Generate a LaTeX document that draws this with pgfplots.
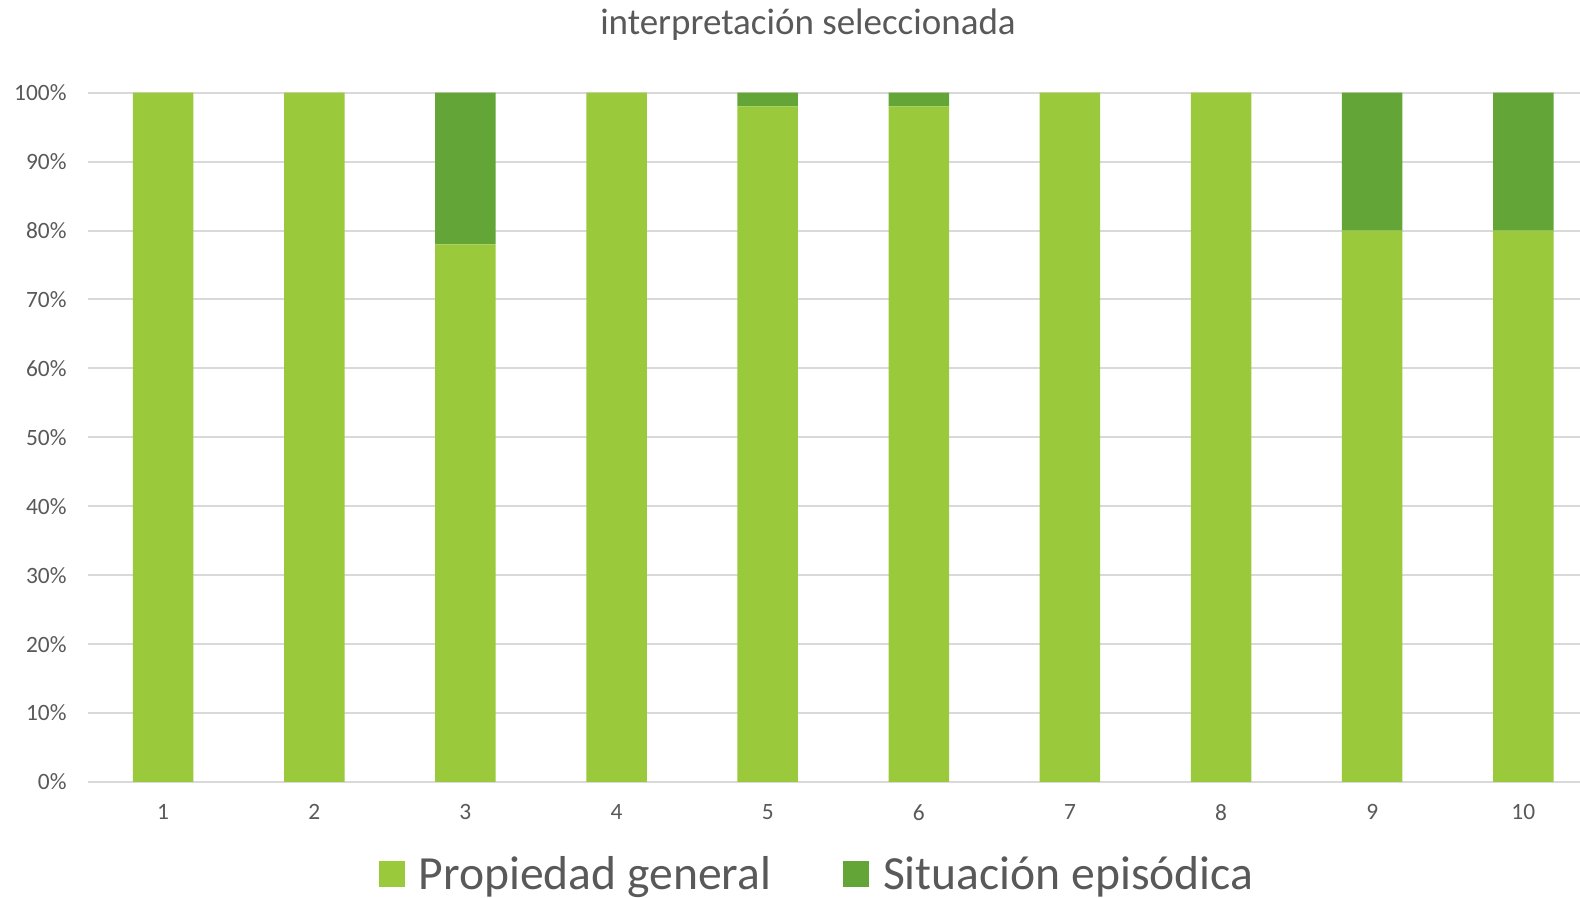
\documentclass[border=0pt]{standalone}
\usepackage{fontspec}
\setmainfont{Carlito}
\usepackage{pgfplots}
\pgfplotsset{compat=1.18}
\definecolor{lg}{HTML}{9ACA3C}
\definecolor{dg}{HTML}{63A537}
\definecolor{gridc}{HTML}{D9D9D9}
\definecolor{txt}{HTML}{595959}
\begin{document}
\begin{tikzpicture}
\path[use as bounding box] (0,0) rectangle (790pt,449pt);
\node[font=\fontsize{18.5}{22}\selectfont, text=txt] at (404pt,436.5pt) {interpretación seleccionada};
\begin{axis}[
  at={(43.8pt,58pt)}, anchor=south west,
  scale only axis, width=746.2pt, height=344.65pt,
  ybar stacked, bar width=30.25pt,
  xmin=0.5, xmax=10.375, ymin=0, ymax=100,
  xtick={1,...,10}, ytick={0,10,...,100},
  yticklabel={\pgfmathprintnumber{\tick}\%},
  /pgf/number format/assume math mode=true,
  separate axis lines,
  axis x line*=bottom, axis y line*=left,
  y axis line style={draw=none},
  x axis line style={draw=gridc, line width=1pt},
  xtick style={draw=none}, ytick style={draw=none},
  ymajorgrids, grid style={draw=gridc, line width=1pt},
  tick label style={font=\fontsize{11.7}{14}\selectfont, text=txt},
  xticklabel style={yshift=-7.85pt},
  yticklabel style={xshift=-7pt},
  legend style={at={(0.4894,-0.134)}, anchor=center, draw=none, fill=none,
    legend columns=2, font=\fontsize{23.8}{28}\selectfont, text=txt,
    /tikz/every even column/.append style={column sep=34pt}},
  legend image code/.code={\fill[#1] (0pt,-6.5pt) rectangle (13pt,6.5pt); \path (18pt,0pt);},
  clip=false,
]
\addplot[fill=lg, draw=none] coordinates {(1,100)(2,100)(3,78)(4,100)(5,98)(6,98)(7,100)(8,100)(9,80)(10,80)};
\addplot[fill=dg, draw=none] coordinates {(1,0)(2,0)(3,22)(4,0)(5,2)(6,2)(7,0)(8,0)(9,20)(10,20)};
\legend{Propiedad general, Situación episódica}
\end{axis}
\end{tikzpicture}
\end{document}
